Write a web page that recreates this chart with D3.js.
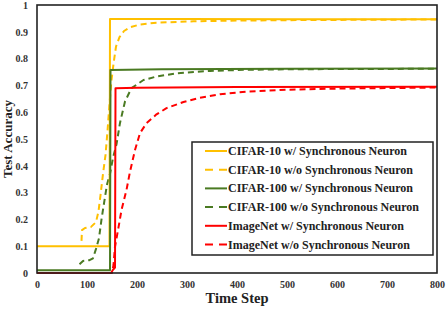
<!DOCTYPE html>
<html>
<head>
<meta charset="utf-8">
<script src="https://cdn.jsdelivr.net/npm/d3@7"></script>
<style>
  html, body { margin: 0; padding: 0; background: #fff; }
  svg { display: block; font-family: "Liberation Serif", "Times New Roman", serif; }
</style>
</head>
<body>
<div id="chart"></div>
<script>
// series values, [step, accuracy]
var cifar10Sync = [[0, 0.1], [145, 0.1], [146, 0.948], [300, 0.948], [500, 0.947], [800, 0.947]];
var cifar10NoSync = [[89, 0.12], [90, 0.16], [96, 0.168], [108, 0.172], [118, 0.19], [123, 0.23], [127, 0.29],
  [132, 0.37], [137, 0.44], [141, 0.53], [145, 0.63], [149, 0.72], [153, 0.78], [158, 0.845], [165, 0.88],
  [174, 0.903], [186, 0.917], [205, 0.927], [239, 0.934], [313, 0.939], [400, 0.942], [550, 0.944], [800, 0.946]];
var cifar100Sync = [[0, 0.01], [146, 0.01], [147, 0.757], [250, 0.76], [500, 0.762], [800, 0.763]];
var cifar100NoSync = [[85, 0.033], [92, 0.045], [105, 0.048], [112, 0.055], [118, 0.09], [124, 0.13], [129, 0.2],
  [134, 0.26], [140, 0.33], [146, 0.37], [152, 0.43], [159, 0.48], [166, 0.56], [176, 0.64], [189, 0.69],
  [213, 0.72], [239, 0.733], [279, 0.745], [346, 0.754], [413, 0.758], [500, 0.76], [600, 0.761], [800, 0.762]];
var imagenetSync = [[0, 0], [148, 0], [152, 0.012], [156, 0.02], [157, 0.689], [200, 0.691], [400, 0.694], [800, 0.695]];
var imagenetNoSync = [[0, 0], [150, 0], [153, 0.03], [156, 0.098], [163, 0.17], [169, 0.235], [179, 0.31],
  [186, 0.378], [196, 0.459], [206, 0.522], [219, 0.559], [239, 0.592], [259, 0.615], [293, 0.638],
  [326, 0.654], [366, 0.667], [419, 0.677], [500, 0.684], [600, 0.688], [700, 0.69], [800, 0.692]];

var seriesNames = ['CIFAR-10 w/ Synchronous Neuron', 'CIFAR-10 w/o Synchronous Neuron',
  'CIFAR-100 w/ Synchronous Neuron', 'CIFAR-100 w/o Synchronous Neuron',
  'ImageNet w/ Synchronous Neuron', 'ImageNet w/o Synchronous Neuron'];
var seriesData = [cifar10Sync, cifar10NoSync, cifar100Sync, cifar100NoSync, imagenetSync, imagenetNoSync];
var seriesColors = ['#FFC000', '#FFC000', '#4A7A22', '#4A7A22', '#FF0000', '#FF0000'];
var seriesDashed = [false, true, false, true, false, true];

var xTicks = [0, 100, 200, 300, 400, 500, 600, 700, 800];
var yTicks = [0, 0.1, 0.2, 0.3, 0.4, 0.5, 0.6, 0.7, 0.8, 0.9, 1];

var width = 446, height = 309;
var margin = { top: 5, right: 9, bottom: 36, left: 37 };
var iw = width - margin.left - margin.right;
var ih = height - margin.top - margin.bottom;

var x = d3.scaleLinear().domain([0, 800]).range([0, iw]);
var y = d3.scaleLinear().domain([0, 1]).range([ih, 0]);

var svg = d3.select('#chart').append('svg').attr('width', width).attr('height', height);
var g = svg.append('g').attr('transform', 'translate(' + margin.left + ',' + margin.top + ')');

var line = d3.line().x(function (d) { return x(d[0]); }).y(function (d) { return y(d[1]); });

// draw order: dashed under solid where they overlap
var order = [1, 3, 5, 0, 2, 4];
order.forEach(function (i) {
  g.append('path').datum(seriesData[i]).attr('d', line)
    .attr('fill', 'none').attr('stroke', seriesColors[i]).attr('stroke-width', 2)
    .attr('stroke-linejoin', 'round')
    .attr('stroke-dasharray', seriesDashed[i] ? '6,4' : null);
});

// axes (labels only, no tick marks)
var xAxis = g.append('g').attr('transform', 'translate(0,' + ih + ')')
  .call(d3.axisBottom(x).tickValues(xTicks).tickSize(0).tickPadding(8).tickFormat(d3.format('d')));
var yAxis = g.append('g')
  .call(d3.axisLeft(y).tickValues(yTicks).tickSize(0).tickPadding(9).tickFormat(function (d) { return d === 0 || d === 1 ? d : d.toFixed(1); }));
[xAxis, yAxis].forEach(function (a) {
  a.select('.domain').remove();
  a.selectAll('text').attr('font-family', '"Liberation Serif", serif').attr('font-weight', 'bold')
    .attr('font-size', 10).attr('fill', '#333');
});

// plot frame
g.append('rect').attr('x', 0).attr('y', 0).attr('width', iw).attr('height', ih)
  .attr('fill', 'none').attr('stroke', '#222').attr('stroke-width', 1.6);

// axis titles
svg.append('text').attr('x', margin.left + iw / 2).attr('y', 303).attr('text-anchor', 'middle')
  .attr('font-weight', 'bold').attr('font-size', 14.5).attr('fill', '#222').text('Time Step');
svg.append('text').attr('transform', 'translate(12,' + (margin.top + ih / 2) + ') rotate(-90)')
  .attr('text-anchor', 'middle').attr('font-weight', 'bold').attr('font-size', 13).attr('fill', '#222')
  .text('Test Accuracy');

// legend
var lg = svg.append('g');
lg.append('rect').attr('x', 192).attr('y', 142).attr('width', 241).attr('height', 113)
  .attr('fill', '#fff').attr('stroke', '#222').attr('stroke-width', 1.5);
seriesNames.forEach(function (name, i) {
  var cy = 151 + i * 18.7;
  lg.append('line').attr('x1', 205).attr('x2', 227).attr('y1', cy).attr('y2', cy)
    .attr('stroke', seriesColors[i]).attr('stroke-width', 2)
    .attr('stroke-dasharray', seriesDashed[i] ? '8,6' : null);
  lg.append('text').attr('x', 228).attr('y', cy + 4).attr('font-weight', 'bold')
    .attr('font-size', 12).attr('fill', '#222').text(name);
});
</script>
</body>
</html>
